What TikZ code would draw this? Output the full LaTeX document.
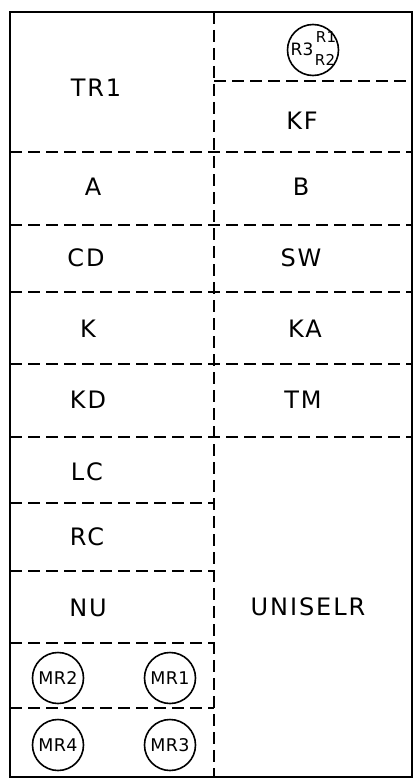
\documentclass[tikz,border=0pt]{standalone}
\usepackage{fontspec}
\setmainfont{Liberation Sans}
\newfontfamily\handfont[LetterSpace=8]{DejaVu Sans}
\newfontfamily\relayfont[LetterSpace=2]{DejaVu Sans}

\begin{document}
\begin{tikzpicture}[x=1pt,y=-1pt,
  frame/.style={line width=1.5pt},
  sep/.style={line width=1.4pt,dash pattern=on 12pt off 6pt},
  lbl/.style={font=\handfont\fontsize{24}{26}\selectfont},
  relay/.style={circle,draw,line width=1.6pt,minimum size=51pt,inner sep=0pt,font=\relayfont\fontsize{17.5}{18}\selectfont},
  sub/.style={inner sep=0pt,font=\relayfont\fontsize{15}{15}\selectfont}]
\useasboundingbox (0,0) rectangle (416,781);
\draw[frame] (10,12) rectangle (412,777);
\draw[line width=2.6pt] (10,12) -- (10,777);

\draw[sep] (214,12) -- (214,777);
\draw[sep] (214,81) -- (412,81);
\foreach \y in {152,225,292,364,437}
  \draw[sep] (10,\y) -- (412,\y);
\foreach \y in {503,571,643,708}
  \draw[sep] (10,\y) -- (214,\y);

\node[lbl] (tr1) at (96,88) {TR1};
\node[lbl] (kf) at (302,121) {KF};
\node[relay] (rr) at (313,50) {};
\node[sub,font=\relayfont\fontsize{17}{17}\selectfont] (r3) at (302,49) {R3};
\node[sub] (r1) at (326,37) {R1};
\node[sub] (r2) at (325,60) {R2};
\node[lbl] (a) at (93,187) {A};
\node[lbl] (b) at (301,187) {B};
\node[lbl] (cd) at (86,258) {CD};
\node[lbl] (sw) at (301,258) {SW};
\node[lbl] (k) at (88,329) {K};
\node[lbl] (ka) at (305,329) {KA};
\node[lbl] (kd) at (88,400) {KD};
\node[lbl] (tm) at (303,400) {TM};
\node[lbl] (lc) at (87,472) {LC};
\node[lbl] (rc) at (87,537) {RC};
\node[lbl] (nu) at (88,608) {NU};
\node[lbl] (uniselr) at (308,607) {UNISELR};
\node[relay] (mr2) at (58,678) {MR2};
\node[relay] (mr1) at (170,678) {MR1};
\node[relay] (mr4) at (58,745) {MR4};
\node[relay] (mr3) at (170,745) {MR3};
\end{tikzpicture}
\end{document}
